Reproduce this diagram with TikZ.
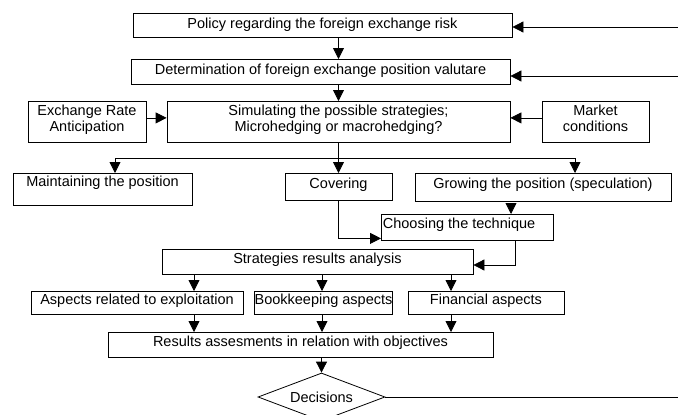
\documentclass[tikz,border=0pt]{standalone}
\usepackage{fontspec}
\setmainfont{Liberation Sans}
\usetikzlibrary{arrows.meta,shapes.geometric,calc}
\begin{document}
\begin{tikzpicture}[x=1pt,y=-1pt,
  box/.style={draw,line width=0.8pt,inner sep=0pt,anchor=north,font=\fontsize{14.5}{16}\selectfont},
  arr/.style={line width=0.8pt,-{Triangle[length=11pt,width=11pt]}},
  ln/.style={line width=0.8pt}]
\useasboundingbox (0,0) rectangle (678,415);
\clip (0,0) rectangle (678,415);
% boxes
\node[box,minimum width=379pt,text height=15pt,text depth=9pt] (policy) at (322.5,13) {Policy regarding the foreign exchange risk};
\node[box,minimum width=379pt,text height=15.5pt,text depth=9.5pt] (det) at (320.5,59) {Determination of foreign exchange position valutare};
\node[box,minimum width=343pt,text height=14pt,text depth=27pt] (sim) at (338.5,101) {\begin{tabular}[t]{@{}c@{}}Simulating the possible strategies;\\Microhedging or macrohedging?\end{tabular}};
\node[box,minimum width=118pt,text height=14pt,text depth=27pt] (exch) at (87,101) {\begin{tabular}[t]{@{}c@{}}Exchange Rate\\Anticipation\end{tabular}};
\node[box,minimum width=107pt,text height=14pt,text depth=27pt] (market) at (595.5,101) {\begin{tabular}[t]{@{}c@{}}Market\\conditions\end{tabular}};
\node[box,minimum width=179pt,text height=13.5pt,text depth=18.5pt] (maint) at (102.5,173) {Maintaining the position};
\node[box,minimum width=107pt,text height=15pt,text depth=12pt] (cover) at (338.5,173) {Covering};
\node[box,minimum width=256pt,text height=15pt,text depth=13pt] (grow) at (543,173) {Growing the position (speculation)};
\node[box,anchor=north west,minimum width=172pt,text height=14pt,text depth=12pt,inner xsep=1.5pt] (choose) at (381,214) {\makebox[169pt][l]{Choosing the technique}};
\node[box,minimum width=311pt,text height=14.5pt,text depth=10.5pt] (strat) at (317.5,249) {Strategies results analysis};
\node[box,minimum width=212pt,text height=13pt,text depth=10pt] (asp) at (137,291) {Aspects related to exploitation};
\node[box,minimum width=137pt,text height=13pt,text depth=10pt] (book) at (323.5,291) {Bookkeeping aspects};
\node[box,minimum width=156pt,text height=13pt,text depth=10pt] (fin) at (486,291) {Financial aspects};
\node[box,minimum width=385pt,text height=14pt,text depth=11pt] (res) at (300.5,332) {Results assesments in relation with objectives};
\node[draw,diamond,line width=0.8pt,inner sep=0pt,minimum width=127pt,minimum height=48pt,text height=0pt,text depth=0pt,font=\fontsize{14.5}{16}\selectfont] (dec) at (321.5,397) {\raisebox{-5pt}[0pt][0pt]{\makebox[0pt]{Decisions}}};
% helper coordinates
\coordinate (r1) at (678,27);
\coordinate (r2) at (678,76);
\coordinate (bl) at (115,158);
\coordinate (br) at (575,158);
\coordinate (gx) at (511,203);
\coordinate (ce) at (515,265);
\coordinate (c1) at (194,0);
\coordinate (c2) at (322,0);
\coordinate (c3) at (451,0);
\coordinate (re) at (678,397);
% connectors
\draw[arr] (r1) -- (r1 -| policy.east);
\draw[arr] (r2) -- (r2 -| det.east);
\draw[arr] (policy.south -| sim.north) -- (det.north -| sim.north);
\draw[arr] (det.south -| sim.north) -- (sim.north);
\draw[arr] ([yshift=4pt]exch.east) -- ([yshift=4pt]sim.west);
\draw[arr] ([yshift=4pt]market.west) -- ([yshift=4pt]sim.east);
\draw[ln] (sim.south) -- (sim.south |- bl);
\draw[ln] (bl) -- (br);
\draw[arr] (bl) -- (bl |- maint.north);
\draw[arr] (sim.south |- bl) -- (cover.north);
\draw[arr] (br) -- (br |- grow.north);
\draw[arr] (gx) -- (gx |- choose.north);
\draw[arr] (cover.south) |- ([yshift=-11pt]choose.west);
\draw[arr] (choose.south -| ce) |- (ce -| strat.east);
\draw[arr] (strat.south -| c1) -- (asp.north -| c1);
\draw[arr] (strat.south -| c2) -- (book.north -| c2);
\draw[arr] (strat.south -| c3) -- (fin.north -| c3);
\draw[arr] (asp.south -| c1) -- (res.north -| c1);
\draw[arr] (book.south -| c2) -- (res.north -| c2);
\draw[arr] (fin.south -| c3) -- (res.north -| c3);
\draw[arr] (res.south -| dec.north) -- (dec.north);
\draw[ln] (dec.east) -- (re);
\end{tikzpicture}
\end{document}
